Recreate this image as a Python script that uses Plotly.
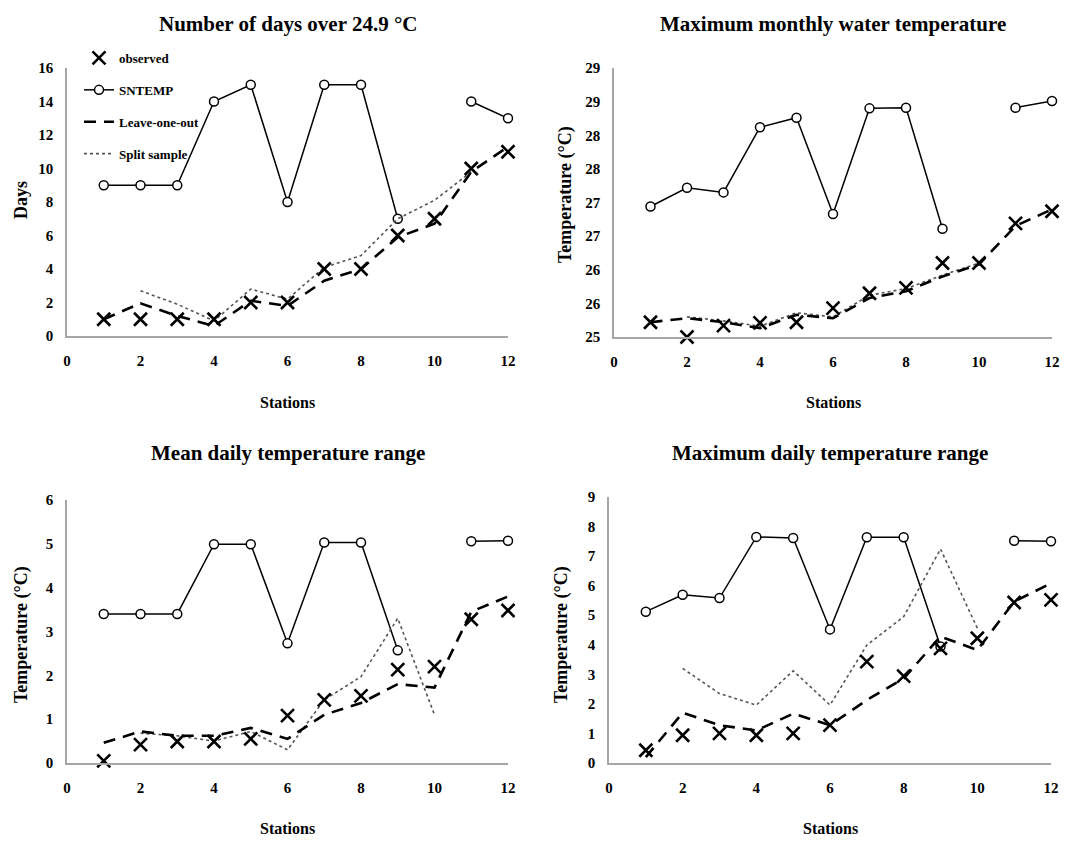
import plotly.graph_objects as go

stations = [1, 2, 3, 4, 5, 6, 7, 8, 9, 10, 11, 12]

# Panel 1: Number of days over 24.9 °C
days_obs = [1, 1, 1, 1, 2, 2, 4, 4, 6, 7, 10, 11]
days_sntemp = [9, 9, 9, 14, 15, 8, 15, 15, 7, None, 14, 13]
days_loo = [1.0, 1.95, 1.2, 0.6, 2.1, 1.8, 3.3, 4.0, 5.9, 6.7, 9.8, 11.3]
days_split = [None, 2.7, 1.9, 0.9, 2.8, 2.2, 4.1, 4.8, 7.0, 8.1, 9.8, None]

# Panel 2: Maximum monthly water temperature
tmax_obs = [25.22, 25.0, 25.17, 25.21, 25.22, 25.43, 25.65, 25.73, 26.1, 26.1, 26.69, 26.87]
tmax_sntemp = [26.94, 27.22, 27.15, 28.12, 28.26, 26.83, 28.4, 28.41, 26.61, None, 28.41, 28.51]
tmax_loo = [25.22, 25.28, 25.22, 25.13, 25.33, 25.28, 25.58, 25.68, 25.9, 26.08, 26.65, 26.9]
tmax_split = [None, 25.3, 25.24, 25.16, 25.36, 25.3, 25.62, 25.72, 25.92, 26.1, None, None]
tmax_tickvals = [25, 25.5, 26, 26.5, 27, 27.5, 28, 28.5, 29]
tmax_ticktext = ["25", "26", "26", "27", "27", "28", "28", "29", "29"]

# Panel 3: Mean daily temperature range
mdr_obs = [0.05, 0.42, 0.49, 0.49, 0.55, 1.08, 1.44, 1.53, 2.13, 2.2, 3.28, 3.48]
mdr_sntemp = [3.4, 3.4, 3.4, 4.99, 4.99, 2.73, 5.03, 5.03, 2.57, None, 5.06, 5.07]
mdr_loo = [0.46, 0.72, 0.62, 0.62, 0.8, 0.55, 1.1, 1.37, 1.8, 1.72, 3.45, 3.8]
mdr_split = [None, 0.68, 0.62, 0.5, 0.72, 0.3, 1.44, 1.97, 3.3, 1.1, None, None]

# Panel 4: Maximum daily temperature range
xdr_obs = [0.43, 0.94, 1.0, 0.94, 1.0, 1.28, 3.43, 2.94, 3.88, 4.22, 5.43, 5.52]
xdr_sntemp = [5.12, 5.69, 5.58, 7.65, 7.61, 4.52, 7.64, 7.64, 3.94, None, 7.52, 7.5]
xdr_loo = [0.2, 1.7, 1.28, 1.1, 1.67, 1.28, 2.13, 2.86, 4.28, 3.82, 5.46, 6.08]
xdr_split = [None, 3.2, 2.35, 1.96, 3.12, 1.96, 3.99, 4.95, 7.24, 4.56, None, None]

titles = ["Number of days over 24.9 °C", "Maximum monthly water temperature",
          "Mean daily temperature range", "Maximum daily temperature range"]
ytitles = ["Days", "Temperature (°C)", "Temperature (°C)", "Temperature (°C)"]

# page is rendered with an 8px body margin, so the figure is 8px smaller
OFF = 8
W, H = 1088 - OFF, 844 - OFF
FONT = "Liberation Serif"


def fx(px):
    return (px - OFF) / W


def fy(py):
    return 1 - (py - OFF) / H


# plot areas in page pixels: (x0, x1, ytop, ybottom)
areas = [(67, 508, 68, 336), (614, 1052, 68, 337), (67, 508, 500, 763), (609, 1051, 497, 763)]

panels = [
    (days_obs, days_sntemp, days_loo, days_split, [0, 16], dict(tickvals=list(range(0, 17, 2)))),
    (tmax_obs, tmax_sntemp, tmax_loo, tmax_split, [25, 29], dict(tickvals=tmax_tickvals, ticktext=tmax_ticktext)),
    (mdr_obs, mdr_sntemp, mdr_loo, mdr_split, [0, 6], dict(tickvals=list(range(0, 7)))),
    (xdr_obs, xdr_sntemp, xdr_loo, xdr_split, [0, 9], dict(tickvals=list(range(0, 10)))),
]

fig = go.Figure()
layout = {}
annotations = []

for i, (obs, snt, loo, spl, yr, yt) in enumerate(panels):
    n = "" if i == 0 else str(i + 1)
    xa, ya = "x" + n, "y" + n
    show = (i == 0)
    fig.add_trace(go.Scatter(x=stations, y=snt, xaxis=xa, yaxis=ya, name="SNTEMP",
                             mode="lines+markers", showlegend=show, legendrank=2, legendgroup="b",
                             line=dict(color="black", width=1.5),
                             marker=dict(symbol="circle", size=9, color="white",
                                         line=dict(color="black", width=1.5)),
                             cliponaxis=False))
    fig.add_trace(go.Scatter(x=stations, y=spl, xaxis=xa, yaxis=ya, name="Split sample",
                             mode="lines", showlegend=show, legendrank=4, legendgroup="d",
                             line=dict(color="#555555", width=1.6, dash="dot"),
                             cliponaxis=False))
    fig.add_trace(go.Scatter(x=stations, y=loo, xaxis=xa, yaxis=ya, name="Leave-one-out",
                             mode="lines", showlegend=show, legendrank=3, legendgroup="c",
                             line=dict(color="black", width=2.6, dash="12px,8px"),
                             cliponaxis=False))
    fig.add_trace(go.Scatter(x=stations, y=obs, xaxis=xa, yaxis=ya, name="observed",
                             mode="markers", showlegend=show, legendrank=1, legendgroup="a",
                             marker=dict(symbol="x-thin", size=13, color="black",
                                         line=dict(color="black", width=2.6)),
                             cliponaxis=False))

    x0, x1, yt0, yb = areas[i]
    layout["xaxis" + n] = dict(
        domain=[fx(x0), fx(x1)], anchor=ya, range=[0, 12], tickvals=list(range(0, 13, 2)),
        showgrid=False, zeroline=False, showline=True, linecolor="#a6a6a6", linewidth=1.5,
        ticks="outside", ticklen=10, tickcolor="rgba(0,0,0,0)", automargin=False,
        tickfont=dict(family=FONT, size=15, color="black", weight="bold"))
    layout["yaxis" + n] = dict(
        domain=[fy(yb), fy(yt0)], anchor=xa, range=yr,
        showgrid=False, zeroline=False, showline=True, linecolor="#a6a6a6", linewidth=1.5,
        ticks="outside", ticklen=9, tickcolor="rgba(0,0,0,0)", automargin=False,
        tickfont=dict(family=FONT, size=15, color="black", weight="bold"), **yt)

    cx = (x0 + x1) / 2
    # panel title
    title_y = 24 if i < 2 else 453
    annotations.append(dict(text=titles[i], x=fx(cx), y=fy(title_y),
                            xref="paper", yref="paper", showarrow=False,
                            xanchor="center", yanchor="middle",
                            font=dict(family=FONT, size=21, color="black", weight="bold")))
    # x axis title
    st_y = 402 if i < 2 else 828
    annotations.append(dict(text="Stations", x=fx(cx), y=fy(st_y),
                            xref="paper", yref="paper", showarrow=False,
                            xanchor="center", yanchor="middle",
                            font=dict(family=FONT, size=16, color="black", weight="bold")))
    # y axis title
    ytx = [21, 565, 21, 561][i]
    yty = [200, 195, 635, 635][i]
    annotations.append(dict(text=ytitles[i], x=fx(ytx), y=fy(yty), textangle=-90,
                            xref="paper", yref="paper", showarrow=False,
                            xanchor="center", yanchor="middle",
                            font=dict(family=FONT, size=18, color="black", weight="bold")))

fig.update_layout(**layout)
fig.update_layout(
    width=W, height=H, margin=dict(l=0, r=0, t=0, b=0, pad=0, autoexpand=False),
    paper_bgcolor="white", plot_bgcolor="white",
    font=dict(family=FONT, color="black", weight="bold"),
    annotations=annotations,
    legend=dict(x=fx(79), y=fy(43), xanchor="left", yanchor="top",
                bgcolor="rgba(255,255,255,0)", traceorder="grouped", tracegroupgap=12,
                font=dict(family=FONT, size=13, color="black", weight="bold")),
)

fig.write_html("out.html")
